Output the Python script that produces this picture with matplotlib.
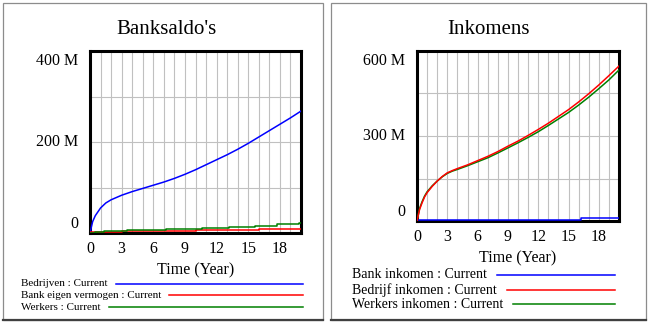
import matplotlib
matplotlib.use("Agg")
import matplotlib.pyplot as plt
from matplotlib.lines import Line2D
from matplotlib.patches import Rectangle
from matplotlib.transforms import ScaledTranslation

plt.rcParams['font.family'] = ['Liberation Serif', 'DejaVu Serif']

W, H = 649, 324
DPI = 100

# --- Banksaldo's ---
bedrijven_t = [0, 0.25, 0.5, 1, 1.5, 2, 2.5, 3, 4, 5, 6, 7, 8, 9, 10, 11, 12, 13, 14, 15, 16, 17, 18, 19, 20]
bedrijven_v = [0, 25, 38, 55, 66, 73, 78, 83, 91, 98, 105, 112, 120, 129, 139, 150, 161, 172, 184, 197, 211, 225, 239, 253, 268]
bank_eigen_t = [0, 3, 10, 16, 20]
bank_eigen_v = [1.5, 4.4, 6.6, 8.8, 8.8]
werkers_t = [0, 0.5, 1.3, 3.5, 7.2, 10.6, 13.2, 15.6, 17.7, 19.8, 20]
werkers_v = [0, 3, 5, 7.5, 9.5, 12, 14, 16, 19, 21, 21]

# --- Inkomens ---
bank_ink_t = [0, 5.8, 16.2, 20]
bank_ink_v = [2.5, 5, 9, 9]
ink_t = [0, 0.25, 0.5, 0.75, 1, 1.5, 2, 2.5, 3, 3.5, 4, 5, 6, 7, 8, 9, 10, 11, 12, 13, 14, 15, 16, 17, 18, 19, 20]
bedrijf_ink_v = [0, 40, 64, 85, 100, 122, 141, 157, 170, 178, 185, 198, 213, 228, 245, 264, 282, 302, 323, 345, 369, 393, 420, 449, 480, 513, 547]
werkers_ink_v = [0, 44, 68, 88, 103, 124, 141, 156, 168, 176, 182, 195, 209, 223, 240, 258, 276, 295, 315, 337, 360, 383, 409, 437, 467, 498, 533]

x_ticks = list(range(0, 21))
x_labels = [str(t) if t % 3 == 0 and t < 20 else "" for t in x_ticks]

BLUE, RED, GREEN = "#0000ff", "#ff0000", "#008000"


def px_box(x0, y0, x1, y1):
    return [x0 / W, 1 - y1 / H, (x1 - x0) / W, (y1 - y0) / H]


def setup_axes(ax, ymax, ystep, ylabels):
    ax.set_xlim(0, 20)
    ax.set_ylim(0, ymax)
    ax.set_xticks(x_ticks)
    ax.set_xticklabels(x_labels, fontsize=11.5)
    ax.set_yticks([i * ystep for i in range(int(round(ymax / ystep)) + 1)])
    ax.set_yticklabels([])
    ax.tick_params(length=0, pad=5.5)
    ax.grid(True, color="#c0c0c0", lw=0.8)
    ax.set_axisbelow(True)
    for s in ax.spines.values():
        s.set_linewidth(2.2)
        s.set_zorder(5)
    ax.set_xlabel("Time (Year)", fontsize=11.5, labelpad=4)
    # value labels on the y axis; outer ones nudged inside the frame
    for val, text in ylabels:
        dy = 0
        if val == 0:
            dy = 9
        elif val == ymax:
            dy = -10
        tr = ax.get_yaxis_transform() + ScaledTranslation(-12 / DPI, dy / DPI, fig.dpi_scale_trans)
        ax.text(0, val, text, transform=tr, ha="right", va="center", fontsize=11.5)


def legend_rows(entries, x_text, ys, x_end, size, gap):
    renderer = fig.canvas.get_renderer()
    for (label, color), y in zip(entries, ys):
        t = fig.text(x_text / W, 1 - y / H, label, fontsize=size, ha="left", va="center")
        bb = t.get_window_extent(renderer)
        x_start = bb.x1 + gap
        fig.add_artist(Line2D([x_start / W, x_end / W], [1 - y / H, 1 - y / H],
                              transform=fig.transFigure, color=color, lw=1.1))


fig = plt.figure(figsize=(W / DPI, H / DPI), dpi=DPI)

# panel frames
for x0, x1 in [(3, 323), (331, 646)]:
    fig.add_artist(Rectangle((x0 / W, 1 - 320 / H), (x1 - x0) / W, 317 / H,
                             transform=fig.transFigure, fill=False, ec="#8c8c8c", lw=0.9))
    fig.add_artist(Line2D([x0 / W, x1 / W], [1 - 320 / H, 1 - 320 / H],
                          transform=fig.transFigure, color="#404040", lw=1.6))

ax1 = fig.add_axes(px_box(90, 51, 301, 233))
ax1.plot(bedrijven_t, [v * 1e6 for v in bedrijven_v], color=BLUE, lw=1.1, zorder=6)
ax1.step(bank_eigen_t, [v * 1e6 for v in bank_eigen_v], where="post", color=RED, lw=1.1, zorder=6)
ax1.step(werkers_t, [v * 1e6 for v in werkers_v], where="post", color=GREEN, lw=1.1, zorder=6)
setup_axes(ax1, 400e6, 100e6, [(0, "0"), (200e6, "200 M"), (400e6, "400 M")])
fig.text(166 / W, 1 - 29 / H, "Banksaldo's", fontsize=15, ha="center", va="center")

ax2 = fig.add_axes(px_box(417, 51, 619, 221))
ax2.step(bank_ink_t, [v * 1e6 for v in bank_ink_v], where="post", color=BLUE, lw=1.1, zorder=6)
ax2.plot(ink_t, [v * 1e6 for v in werkers_ink_v], color=GREEN, lw=1.1, zorder=6)
ax2.plot(ink_t, [v * 1e6 for v in bedrijf_ink_v], color=RED, lw=1.1, zorder=6)
setup_axes(ax2, 600e6, 150e6, [(0, "0"), (300e6, "300 M"), (600e6, "600 M")])
fig.text(488 / W, 1 - 29 / H, "Inkomens", fontsize=15, ha="center", va="center")

legend_rows([("Bedrijven : Current", BLUE),
             ("Bank eigen vermogen : Current", RED),
             ("Werkers : Current", GREEN)],
            21, [284, 295, 307], 303, 8, 8)
legend_rows([("Bank inkomen : Current", BLUE),
             ("Bedrijf inkomen : Current", RED),
             ("Werkers inkomen : Current", GREEN)],
            352, [275, 290, 304], 615, 10, 10)

fig.savefig("out.png", dpi=DPI)
